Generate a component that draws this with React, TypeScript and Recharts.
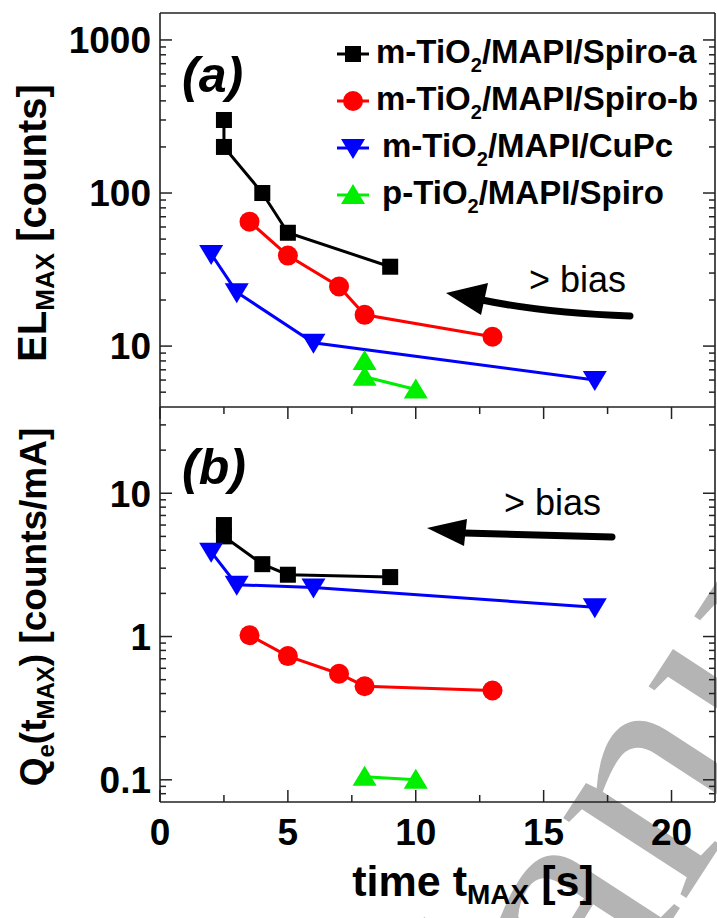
import React from "react";
import { ScatterChart, Scatter, XAxis, YAxis, ReferenceLine, Legend } from "recharts";

type Pt = { x: number; y: number };

// x axis (shared)
const xTicks = [0, 2.5, 5, 7.5, 10, 12.5, 15, 17.5, 20];
const xMax = 21.7;

// panel (a): EL_MAX [counts]
const elDomain = [4, 1500];
const elDecades = [1, 10, 100, 1000];
const elSpiroA: Pt[] = [
  { x: 2.5, y: 300 },
  { x: 2.5, y: 200 },
  { x: 4, y: 100 },
  { x: 5, y: 55 },
  { x: 9, y: 33 },
];
const elSpiroB: Pt[] = [
  { x: 3.5, y: 65 },
  { x: 5, y: 39 },
  { x: 7, y: 24.5 },
  { x: 8, y: 16 },
  { x: 13, y: 11.5 },
];
const elCuPc: Pt[] = [
  { x: 2, y: 40 },
  { x: 3, y: 22.5 },
  { x: 6, y: 10.5 },
  { x: 17, y: 6 },
];
const elPlanar: Pt[] = [
  { x: 8, y: 8 },
  { x: 8, y: 6.3 },
  { x: 10, y: 5.2 },
];

// panel (b): Qe(tMAX) [counts/mA]
const qeDomain = [0.07, 40];
const qeDecades = [0.01, 0.1, 1, 10];
const qeSpiroA: Pt[] = [
  { x: 2.5, y: 6 },
  { x: 2.5, y: 5 },
  { x: 4, y: 3.2 },
  { x: 5, y: 2.7 },
  { x: 9, y: 2.6 },
];
const qeSpiroB: Pt[] = [
  { x: 3.5, y: 1.02 },
  { x: 5, y: 0.73 },
  { x: 7, y: 0.55 },
  { x: 8, y: 0.45 },
  { x: 13, y: 0.42 },
];
const qeCuPc: Pt[] = [
  { x: 2, y: 3.9 },
  { x: 3, y: 2.3 },
  { x: 6, y: 2.2 },
  { x: 17, y: 1.6 },
];
const qePlanar: Pt[] = [
  { x: 8, y: 0.105 },
  { x: 10, y: 0.1 },
];

const seriesNames = [
  "m-TiO2/MAPI/Spiro-a",
  "m-TiO2/MAPI/Spiro-b",
  "m-TiO2/MAPI/CuPc",
  "p-TiO2/MAPI/Spiro",
];
const seriesColors = ["#000000", "#ff0000", "#0000ff", "#00ee00"];
const seriesMarkers = ["square", "circle", "down", "up"];

const FONT = "'Liberation Sans', Arial, sans-serif";
const PLOT_W = 555;
const H_A = 394;
const H_B = 395;

function logTicks(decades: number[], lo: number, hi: number) {
  const out: number[] = [];
  decades.forEach((d) => {
    for (let m = 1; m <= 9; m++) {
      const v = +(d * m).toPrecision(3);
      if (v > lo && v < hi) out.push(v);
    }
  });
  return out;
}

function Marker({ kind, cx, cy, color }: any) {
  if (kind === "square")
    return <rect x={cx - 8} y={cy - 8} width={16} height={16} fill={color} />;
  if (kind === "circle") return <circle cx={cx} cy={cy} r={10} fill={color} />;
  if (kind === "down")
    return (
      <polygon
        points={`${cx - 12},${cy - 9} ${cx + 12},${cy - 9} ${cx},${cy + 11}`}
        fill={color}
      />
    );
  return (
    <polygon
      points={`${cx - 12},${cy + 9} ${cx + 12},${cy + 9} ${cx},${cy - 11}`}
      fill={color}
    />
  );
}

function YTick(props: any) {
  const { x, y, payload, decades } = props;
  const v = payload.value;
  const major = decades.includes(v);
  const len = major ? 12 : 6;
  return (
    <g>
      <line x1={x} y1={y} x2={x + len} y2={y} stroke="#222" strokeWidth={1.5} />
      <line x1={x + PLOT_W} y1={y} x2={x + PLOT_W - len} y2={y} stroke="#222" strokeWidth={1.5} />
      {major && (
        <text
          x={x - 9}
          y={y}
          dy="0.36em"
          textAnchor="end"
          fontFamily={FONT}
          fontWeight="bold"
          fontSize={37}
          fill="#000"
        >
          {String(v)}
        </text>
      )}
    </g>
  );
}

function XTick(props: any) {
  const { x, y, payload, plotH, showLabel } = props;
  const v = payload.value;
  const major = v % 5 === 0;
  const len = major ? 12 : 7;
  return (
    <g>
      <line x1={x} y1={y} x2={x} y2={y - len} stroke="#222" strokeWidth={1.5} />
      <line x1={x} y1={y - plotH} x2={x} y2={y - plotH + len} stroke="#222" strokeWidth={1.5} />
      {showLabel && major && (
        <text
          x={x}
          y={y + 43}
          textAnchor="middle"
          fontFamily={FONT}
          fontWeight="bold"
          fontSize={37}
          fill="#000"
        >
          {String(v)}
        </text>
      )}
    </g>
  );
}

function nameWithSub(name: string) {
  const [a, b] = name.split("TiO2");
  return (
    <>
      {a}TiO
      <span style={{ fontSize: 20, position: "relative", top: 9 }}>2</span>
      {b}
    </>
  );
}

function LegendBox() {
  return (
    <div style={{ fontFamily: FONT, fontWeight: "bold", fontSize: 33, color: "#000" }}>
      {seriesNames.map((name, i) => (
        <div key={name} style={{ display: "flex", alignItems: "center", height: 47 }}>
          <svg width={34} height={30}>
            <line x1={1} y1={15} x2={33} y2={15} stroke={seriesColors[i]} strokeWidth={3} />
            <Marker kind={seriesMarkers[i]} cx={17} cy={15} color={seriesColors[i]} />
          </svg>
          <span style={{ marginLeft: i >= 2 ? 12 : 6, whiteSpace: "nowrap", lineHeight: "30px" }}>
            {nameWithSub(name)}
          </span>
        </div>
      ))}
    </div>
  );
}

function seriesEls(sets: Pt[][]) {
  return sets.map((data, i) => (
    <Scatter
      key={seriesNames[i]}
      name={seriesNames[i]}
      data={data}
      fill={seriesColors[i]}
      line={{ stroke: seriesColors[i], strokeWidth: 3 }}
      shape={(p: any) => (
        <Marker kind={seriesMarkers[i]} cx={p.cx} cy={p.cy} color={seriesColors[i]} />
      )}
      isAnimationActive={false}
    />
  ));
}

const elTicks = logTicks(elDecades, elDomain[0], elDomain[1]);
const qeTicks = logTicks(qeDecades, qeDomain[0], qeDomain[1]);

function Arrow({ d, head }: { d: string; head: string }) {
  return (
    <g>
      <path d={d} fill="none" stroke="#000" strokeWidth={7} strokeLinecap="round" />
      <polygon points={head} fill="#000" />
    </g>
  );
}

export default function App() {
  const axisLine = { stroke: "#222", strokeWidth: 1.6 };
  return (
    <div
      style={{
        position: "absolute",
        left: 0,
        top: 0,
        width: 717,
        height: 918,
        background: "#fff",
        overflow: "hidden",
      }}
    >
      {/* watermark */}
      <svg width={717} height={918} style={{ position: "absolute", left: 0, top: 0 }}>
        <g transform="translate(450,1262) rotate(-57)">
          <text x={0} y={0} fontFamily="'Liberation Serif', 'Times New Roman', serif" fontSize={320} fill="#b4b4b4">
            Manuscript
          </text>
        </g>
      </svg>

      {/* panel (a) */}
      <div style={{ position: "absolute", left: 0, top: 0 }}>
        <ScatterChart width={717} height={420} margin={{ top: 13, right: 2, bottom: 13, left: 60 }}>
          <XAxis
            type="number"
            dataKey="x"
            domain={[0, xMax]}
            ticks={xTicks}
            interval={0}
            allowDataOverflow
            height={0}
            tickSize={0}
            tickMargin={0}
            tickLine={false}
            axisLine={axisLine}
            tick={(p: any) => <XTick {...p} plotH={H_A} showLabel={false} />}
          />
          <YAxis
            type="number"
            dataKey="y"
            scale="log"
            domain={elDomain}
            ticks={elTicks}
            interval={0}
            allowDataOverflow
            width={100}
            tickSize={0}
            tickMargin={0}
            tickLine={false}
            axisLine={axisLine}
            tick={(p: any) => <YTick {...p} decades={elDecades} />}
          />
          <ReferenceLine y={elDomain[1]} stroke="#222" strokeWidth={1.6} />
          <ReferenceLine x={xMax} stroke="#222" strokeWidth={1.6} />
          {seriesEls([elSpiroA, elSpiroB, elCuPc, elPlanar])}
          <Legend
            layout="vertical"
            align="center"
            verticalAlign="middle"
            wrapperStyle={{ top: 30, left: 336, width: 380 }}
            content={() => <LegendBox />}
          />
        </ScatterChart>
      </div>

      {/* panel (b) */}
      <div style={{ position: "absolute", left: 0, top: 400 }}>
        <ScatterChart width={717} height={518} margin={{ top: 7, right: 2, bottom: 0, left: 60 }}>
          <XAxis
            type="number"
            dataKey="x"
            domain={[0, xMax]}
            ticks={xTicks}
            interval={0}
            allowDataOverflow
            height={116}
            tickSize={0}
            tickMargin={0}
            tickLine={false}
            axisLine={axisLine}
            tick={(p: any) => <XTick {...p} plotH={H_B} showLabel />}
          />
          <YAxis
            type="number"
            dataKey="y"
            scale="log"
            domain={qeDomain}
            ticks={qeTicks}
            interval={0}
            allowDataOverflow
            width={100}
            tickSize={0}
            tickMargin={0}
            tickLine={false}
            axisLine={axisLine}
            tick={(p: any) => <YTick {...p} decades={qeDecades} />}
          />
          <ReferenceLine y={qeDomain[1]} stroke="#222" strokeWidth={1.6} />
          <ReferenceLine x={xMax} stroke="#222" strokeWidth={1.6} />
          {seriesEls([qeSpiroA, qeSpiroB, qeCuPc, qePlanar])}
        </ScatterChart>
      </div>

      {/* annotations and axis titles */}
      <svg
        width={717}
        height={918}
        style={{ position: "absolute", left: 0, top: 0, pointerEvents: "none" }}
        fontFamily={FONT}
      >
        <text x={182} y={92} fontSize={50} fontWeight="bold" fontStyle="italic">
          (a)
        </text>
        <text x={182} y={484} fontSize={50} fontWeight="bold" fontStyle="italic">
          (b)
        </text>
        <text x={529} y={292} fontSize={36}>
          {"> bias"}
        </text>
        <text x={504} y={515} fontSize={36}>
          {"> bias"}
        </text>
        <Arrow d="M630,316 Q545,313 482,300" head="446,293 488,283 481,315" />
        <Arrow d="M612,537 Q540,535 464,533" head="427,528 467,519 464,546" />

        <text
          transform="translate(46,223) rotate(-90)"
          textAnchor="middle"
          fontSize={40}
          fontWeight="bold"
        >
          EL
          <tspan fontSize={26} dy={8}>MAX</tspan>
          <tspan dy={-8}> [counts]</tspan>
        </text>
        <text
          transform="translate(46,607) rotate(-90)"
          textAnchor="middle"
          fontSize={37}
          fontWeight="bold"
        >
          Q
          <tspan fontSize={24} dy={8}>e</tspan>
          <tspan dy={-8}>(t</tspan>
          <tspan fontSize={24} dy={8}>MAX</tspan>
          <tspan dy={-8}>) [counts/mA]</tspan>
        </text>
        <text x={473} y={896} textAnchor="middle" fontSize={43} fontWeight="bold">
          time t
          <tspan fontSize={28} dy={8}>MAX</tspan>
          <tspan dy={-8}> [s]</tspan>
        </text>
      </svg>
    </div>
  );
}
